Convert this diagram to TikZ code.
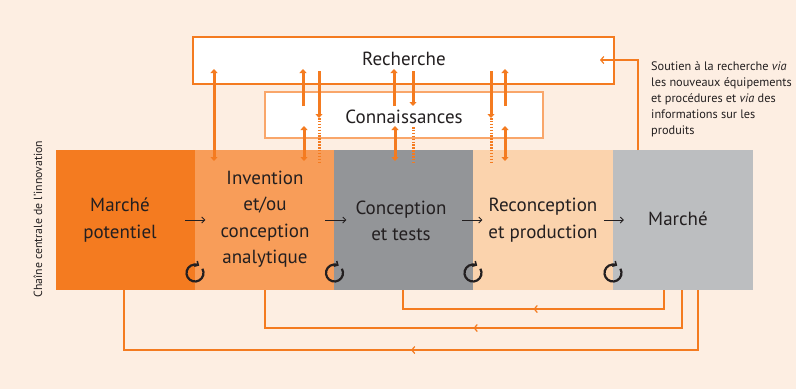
\documentclass[tikz,border=0pt]{standalone}
\usepackage{fontspec}
\setmainfont{PT Sans}
\usetikzlibrary{arrows.meta,decorations.markings}
\definecolor{bg}{HTML}{FDEEE2}
\definecolor{org}{HTML}{F47B20}
\definecolor{orgm}{HTML}{F89D59}
\definecolor{orgl}{HTML}{FBD3AD}
\definecolor{grd}{HTML}{939598}
\definecolor{grl}{HTML}{BCBEC0}
\definecolor{orgb}{HTML}{F9A66A}
\definecolor{ink}{HTML}{231F20}
\begin{document}
\begin{tikzpicture}[x=1pt,y=-1pt,
  stage/.style={rectangle, inner sep=0pt, minimum width=139.5pt, minimum height=140pt},
  lbl/.style={text=ink, font=\fontsize{19}{26.5}\selectfont, align=center, inner sep=0pt},
  topbox/.style={rectangle, line width=2pt, fill=white, inner sep=0pt},
  tipA/.tip={Triangle[width=7pt,length=4pt]},
  varr/.style={draw=org, line width=3pt, -tipA},
  vdbl/.style={draw=org, line width=3pt, tipA-tipA},
  vdot/.style={draw=org, line width=3pt, dash pattern=on 1.5pt off 1.4pt},
  fb/.style={draw=org, line width=2.5pt, postaction=decorate,
    decoration={markings, mark=at position 0.5 with {\arrow{Straight Barb[line width=1.2pt,length=3pt,width=7pt]}}}},
  cyc/.style={draw=ink, line width=2.2pt, -{Straight Barb[line width=1.5pt,length=3pt,width=6pt]}},
  flow/.style={draw=ink, line width=1pt, -{Straight Barb[line width=1pt,length=3pt,width=6pt]}}
]
\fill[bg] (0,0) rectangle (796,389);
\useasboundingbox (0,0) rectangle (796,389);

% stages
\node[stage, fill=org]  (b1) at (125.5,220) {};
\node[stage, fill=orgm] (b2) at (264.5,220) {};
\node[stage, fill=grd]  (b3) at (403.5,220) {};
\node[stage, fill=orgl] (b4) at (543,220) {};
\node[stage, fill=grl]  (b5) at (683,220) {};

\node[lbl] (t1) at (120,220) {Marché\\potentiel};
\node[lbl] (t2) at (265,219) {Invention\\et/ou\\conception\\analytique};
\node[lbl] (t3) at (401,221) {Conception\\et tests};
\node[lbl] (t4) at (543,220) {Reconception\\et production};
\node[lbl] (t5) at (678,219) {Marché};

% flow arrows
\draw[flow] ([xshift=-10pt]b1.east) -- ([xshift=10pt]b1.east);
\draw[flow] ([xshift=-9pt]b2.east) -- ([xshift=12pt]b2.east);
\draw[flow] ([xshift=-11pt]b3.east) -- ([xshift=9pt]b3.east);
\draw[flow] ([xshift=-9pt]b4.east) -- ([xshift=11pt]b4.east);

% cycle symbols
\foreach \cx/\nm in {195/c1,334.5/c2,473/c3,613/c4}{
  \coordinate (\nm) at (\cx,273);
  \draw[cyc] ([shift={(-30:8.5)}]\nm) arc[start angle=-30, end angle=300, radius=8.5];
}

% top boxes
\node[topbox, draw=org, minimum width=421pt, minimum height=47pt] (rec) at (403.5,60) {};
\node[text=ink, font=\fontsize{19}{22}\selectfont, inner sep=0pt] (trec) at (404,59) {Recherche};
\node[topbox, draw=orgb, minimum width=278pt, minimum height=46pt] (con) at (404,115) {};
\node[text=ink, font=\fontsize{19}{22}\selectfont, inner sep=0pt] (tcon) at (404,117) {Connaissances};

% vertical links
\draw[vdbl] (214,69) -- (214,161);
\draw[varr] (303,106) -- (303,69);
\draw[vdbl] (304,126) -- (304,161);
\draw[varr] (319,71) -- (319,118);
\draw[vdot] (319,118) -- (319,163);
\draw[varr] (394,106) -- (394,69);
\draw[vdbl] (395,126) -- (395,161);
\draw[varr] (413,71) -- (413,106);
\draw[vdot] (413,127) -- (413,162);
\draw[varr] (491,71) -- (491,118);
\draw[vdot] (491,118) -- (491,163);
\draw[varr] (505,106) -- (505,69);
\draw[vdbl] (505,126) -- (505,161);

% support link
\coordinate (s0) at (638,150);
\draw[draw=org, line width=2.5pt, -{Straight Barb[line width=1.2pt,length=3pt,width=7pt]}] (s0) -- (638,60) -- (600,60);
\node[anchor=north west, align=left, text=ink, inner sep=0pt, font=\fontsize{12.3}{16}\selectfont] (sout) at (651,61)
  {Soutien à la recherche \textit{via}\\les nouveaux équipements\\et procédures et \textit{via} des\\informations sur les\\produits};

% side label
\node[rotate=90, text=ink, font=\fontsize{11.8}{13}\selectfont, inner sep=0pt] (side) at (38,219) {Chaîne centrale de l’innovation};

% feedback loops
\draw[fb] (664,290) -- (664,309) -- (403,309) -- (403,290);
\draw[fb] (682,290) -- (682,328) -- (265,328) -- (265,290);
\draw[fb] (698,290) -- (698,350) -- (124,350) -- (124,290);
\end{tikzpicture}
\end{document}
